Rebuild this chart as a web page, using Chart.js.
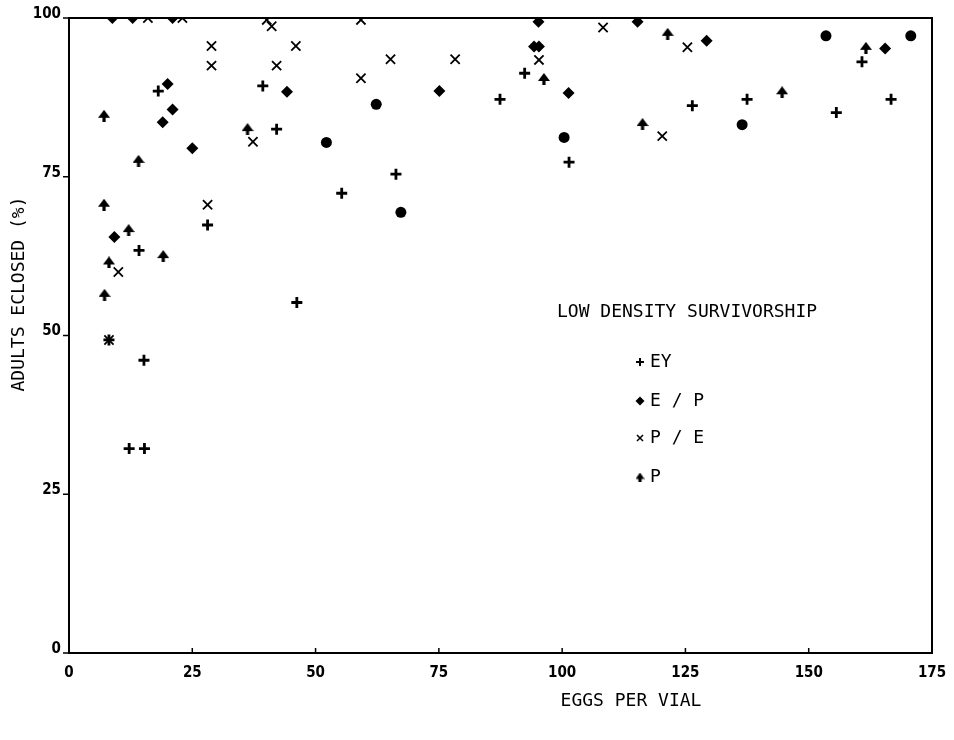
<!DOCTYPE html>
<html>
<head>
<meta charset="utf-8">
<script src="https://cdn.jsdelivr.net/npm/chart.js@4/dist/chart.umd.min.js"></script>
<style>
  body { margin: 0; background: #fff; }
  #mycanvas { display: block; }
</style>
</head>
<body>
<canvas id="mycanvas" width="954" height="740"></canvas>
<script>
// tick values
var xTicks = [0, 25, 50, 75, 100, 125, 150, 175];
var yTicks = [0, 25, 50, 75, 100];

// EY  (+)
var eyX = [18.1, 39.3, 42.1, 28.1, 14.2, 8.1, 15.2, 12.2, 15.3, 46.2, 66.3, 55.3, 92.4, 87.4, 101.4, 126.4, 137.5, 160.8, 155.6, 166.7];
var eyY = [88.5, 89.3, 82.5, 67.4, 63.4, 49.3, 46.1, 32.2, 32.2, 55.2, 75.4, 72.4, 91.3, 87.2, 77.3, 86.2, 87.2, 93.1, 85.1, 87.2];

// E / P  (diamond)
var epX = [8.8, 12.9, 21.0, 20.0, 21.0, 19.0, 25.0, 44.2, 9.2, 75.1, 95.2, 115.3, 94.3, 95.3, 101.3, 129.3, 165.5];
var epY = [100, 100, 100, 89.6, 85.6, 83.6, 79.5, 88.4, 65.5, 88.5, 99.4, 99.4, 95.5, 95.5, 88.2, 96.4, 95.2];
// E / P points printed as round dots
var epDotX = [52.2, 62.3, 67.3, 100.4, 136.5, 153.5, 170.7];
var epDotY = [80.4, 86.4, 69.4, 81.2, 83.2, 97.2, 97.2];

// P / E  (x)
var peX = [16.0, 23.0, 28.9, 28.9, 40.1, 41.1, 46.0, 42.1, 37.3, 28.1, 10.0, 8.1, 59.2, 65.2, 78.3, 59.2, 108.3, 95.3, 120.3, 125.4];
var peY = [100, 100, 95.6, 92.5, 99.7, 98.7, 95.6, 92.5, 80.5, 70.6, 60.0, 49.3, 99.7, 93.5, 93.5, 90.5, 98.5, 93.4, 81.4, 95.4];

// P  (arrow / spade)
var pX = [7.1, 14.1, 36.2, 7.1, 12.1, 19.1, 8.1, 7.2, 121.4, 96.3, 116.3, 144.6, 161.6];
var pY = [84.6, 77.5, 82.5, 70.6, 66.6, 62.5, 61.5, 56.4, 97.5, 90.4, 83.3, 88.3, 95.3];

var legendTitle = "LOW DENSITY SURVIVORSHIP";
var legendLabels = ["EY", "E / P", "P / E", "P"];

function pts(xs, ys) {
	var out = [];
	for (var i in xs) out.push({x: xs[i], y: ys[i]});
	return out;
}

function makeSpade(size) {
	var c = document.createElement('canvas');
	c.width = size; c.height = size;
	var g = c.getContext('2d');
	var m = size / 2;
	g.fillStyle = '#000';
	g.beginPath();
	g.moveTo(m, 0);
	g.lineTo(size, m + 2);
	g.lineTo(0, m + 2);
	g.closePath();
	g.fill();
	g.fillRect(m - 1.6, m, 3.2, m);
	return c;
}
var spade = makeSpade(12);
var spadeSmall = makeSpade(9);

var monoFont = "'DejaVu Sans Mono', monospace";

var frame = {
	id: 'frame',
	afterDraw: function(chart) {
		var c = chart.ctx, a = chart.chartArea;
		var xs = chart.scales.x, ys = chart.scales.y;
		c.save();
		c.strokeStyle = '#000';
		c.lineWidth = 2;
		c.strokeRect(a.left, a.top, a.right - a.left, a.bottom - a.top);
		c.lineWidth = 1.5;
		c.beginPath();
		xTicks.forEach(function(v) {
			var px = xs.getPixelForValue(v);
			c.moveTo(px, a.bottom);
			c.lineTo(px, a.bottom - 5);
		});
		yTicks.forEach(function(v) {
			var py = ys.getPixelForValue(v);
			c.moveTo(a.left, py);
			c.lineTo(a.left - 6, py);
		});
		c.stroke();

		// axis titles
		c.fillStyle = '#000';
		c.font = '18px ' + monoFont;
		c.textAlign = 'center';
		c.textBaseline = 'middle';
		c.fillText('EGGS PER VIAL', 631, 701);
		c.save();
		c.translate(19, 294);
		c.rotate(-Math.PI / 2);
		c.fillText('ADULTS ECLOSED (%)', 0, 0);
		c.restore();

		// legend
		c.textAlign = 'left';
		c.fillText(legendTitle, 557, 312);
		var ly = [362, 401, 438, 477];
		var mx = 640;
		for (var i = 0; i < legendLabels.length; i++) {
			c.fillText(legendLabels[i], 650, ly[i]);
		}
		c.lineWidth = 2;
		c.beginPath();
		c.moveTo(mx - 4, ly[0]); c.lineTo(mx + 4, ly[0]);
		c.moveTo(mx, ly[0] - 4); c.lineTo(mx, ly[0] + 4);
		c.stroke();
		c.beginPath();
		c.moveTo(mx, ly[1] - 4.5); c.lineTo(mx + 4.5, ly[1]); c.lineTo(mx, ly[1] + 4.5); c.lineTo(mx - 4.5, ly[1]);
		c.closePath(); c.fill();
		c.lineWidth = 1.5;
		c.beginPath();
		c.moveTo(mx - 3, ly[2] - 3); c.lineTo(mx + 3, ly[2] + 3);
		c.moveTo(mx + 3, ly[2] - 3); c.lineTo(mx - 3, ly[2] + 3);
		c.stroke();
		c.drawImage(spadeSmall, mx - 4.5, ly[3] - 4.5);
		c.restore();
	}
};

var tickFont = {family: "'Liberation Sans Narrow', 'DejaVu Sans Condensed', 'Liberation Sans', sans-serif", size: 15, weight: 'bold'};

var ctx = document.getElementById('mycanvas');
var chart = new Chart(ctx, {
	type: 'scatter',
	data: {
		datasets: [
			{ label: 'EY', data: pts(eyX, eyY), pointStyle: 'cross', pointRadius: 5.5, borderWidth: 2.8, borderColor: '#000', backgroundColor: '#000' },
			{ label: 'E / P', data: pts(epX, epY), pointStyle: 'rectRot', pointRadius: 6, borderWidth: 0, borderColor: '#000', backgroundColor: '#000' },
			{ label: 'E / P dots', data: pts(epDotX, epDotY), pointStyle: 'circle', pointRadius: 5.5, borderWidth: 0, borderColor: '#000', backgroundColor: '#000' },
			{ label: 'P / E', data: pts(peX, peY), pointStyle: 'crossRot', pointRadius: 6.5, borderWidth: 1.8, borderColor: '#000', backgroundColor: '#000' },
			{ label: 'P', data: pts(pX, pY), pointStyle: spade, pointRadius: 6, borderColor: '#000', backgroundColor: '#000' }
		]
	},
	options: {
		responsive: false,
		animation: false,
		layout: { padding: { top: 18, right: 22, left: 0, bottom: 0 } },
		plugins: {
			legend: { display: false },
			tooltip: { enabled: false }
		},
		scales: {
			x: {
				type: 'linear', min: 0, max: 175,
				grid: { display: false },
				border: { display: false },
				ticks: { stepSize: 25, color: '#000', font: tickFont, padding: 3, maxRotation: 0 },
				afterFit: function(s) { s.height = 87; }
			},
			y: {
				type: 'linear', min: 0, max: 100,
				grid: { display: false },
				border: { display: false },
				ticks: { stepSize: 25, color: '#000', font: tickFont, padding: 0, labelOffset: -4 },
				afterFit: function(s) { s.width = 69; }
			}
		}
	},
	plugins: [frame]
});
</script>
</body>
</html>
